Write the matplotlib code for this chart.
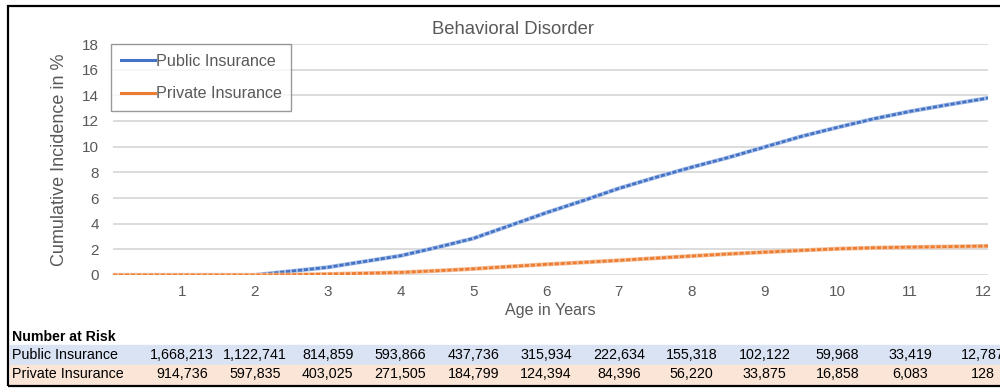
import matplotlib
matplotlib.use("Agg")
import matplotlib.pyplot as plt
from matplotlib.lines import Line2D
from matplotlib.patches import Rectangle
import matplotlib.transforms as mtransforms

plt.rcParams['font.family'] = ['Liberation Sans', 'DejaVu Sans']
plt.rcParams['lines.scale_dashes'] = False

# ---- data ----
years = [0.05, 1, 2, 2.5, 3, 3.5, 4, 4.5, 5, 5.5, 6, 6.5, 7, 7.5, 8, 8.5, 9, 9.5,
         10, 10.5, 11, 11.5, 12, 12.07]
public_ci = [0, 0, 0, 0.3, 0.6, 1.05, 1.5, 2.15, 2.85, 3.85, 4.85, 5.78, 6.75, 7.6,
             8.4, 9.15, 9.97, 10.79, 11.5, 12.17, 12.75, 13.25, 13.72, 13.8]
private_ci = [0, 0, 0, 0.02, 0.07, 0.13, 0.2, 0.33, 0.48, 0.66, 0.83, 0.98, 1.14,
              1.31, 1.48, 1.64, 1.78, 1.92, 2.04, 2.12, 2.17, 2.21, 2.25, 2.26]

tick_years = [1, 2, 3, 4, 5, 6, 7, 8, 9, 10, 11, 12]
public_risk = ["1,668,213", "1,122,741", "814,859", "593,866", "437,736", "315,934",
               "222,634", "155,318", "102,122", "59,968", "33,419", "12,787"]
private_risk = ["914,736", "597,835", "403,025", "271,505", "184,799", "124,394",
                "84,396", "56,220", "33,875", "16,858", "6,083", "128"]

title = "Behavioral Disorder"
series_names = ["Public Insurance", "Private Insurance"]

BLUE = "#4472C4"
BLUE_L = "#A9C1E9"
ORANGE = "#ED7D31"
ORANGE_L = "#F6C3A0"
GRAY = "#595959"

W, H = 1000, 388
fig = plt.figure(figsize=(10, 3.88), dpi=100)

def fx(px):
    return px / W

def fy(py):
    return 1 - py / H

ax = fig.add_axes([fx(113), fy(275), fx(988) - fx(113), fy(44) - fy(275)])
ax.set_xlim(0.05, 12.07)
ax.set_ylim(0, 18)
ax.set_yticks(range(0, 19, 2))
ax.set_xticks(tick_years)
ax.grid(axis='y', color='#D9D9D9', lw=1.3)
ax.set_axisbelow(True)
for s in ax.spines.values():
    s.set_visible(False)
ax.tick_params(length=0, colors=GRAY, labelsize=11)
ax.tick_params(axis='x', pad=7)
ax.tick_params(axis='y', pad=10)

for vals, c, cl in [(public_ci, BLUE, BLUE_L), (private_ci, ORANGE, ORANGE_L)]:
    ax.plot(years, vals, color=cl, lw=3.0, solid_capstyle='butt')
    ax.plot(years, vals, color=c, lw=2.0, dashes=(3.0, 1.3))

handles = [Line2D([], [], color=BLUE, lw=2.2), Line2D([], [], color=ORANGE, lw=2.2)]
leg = ax.legend(handles, series_names, loc='upper left', bbox_to_anchor=(-0.002, 1.0),
                fontsize=11.6, frameon=True, fancybox=False, handlelength=2.1,
                handletextpad=0.05, borderpad=0.6, labelspacing=1.1,
                borderaxespad=0)
leg.get_frame().set_edgecolor('#808080')
leg.get_frame().set_linewidth(1.0)
for t in leg.get_texts():
    t.set_color(GRAY)

fig.text(fx(513), fy(30), title, ha='center', va='center', fontsize=13.3, color=GRAY)
fig.text(fx(60), fy(160), "Cumulative Incidence in %", ha='center', va='center',
         rotation=90, fontsize=13, color=GRAY)
fig.text(fx(550), fy(311), "Age in Years", ha='center', va='center',
         fontsize=11.6, color=GRAY)

# ---- number at risk table ----
fig.text(fx(12), fy(337), "Number at Risk", ha='left', va='center',
         fontsize=10.2, fontweight='bold', color='black')
fig.patches.append(Rectangle((fx(10), fy(365)), 1.0, fy(345) - fy(365),
                             transform=fig.transFigure, color='#DAE3F3', zorder=-2))
fig.patches.append(Rectangle((fx(10), fy(384)), 1.0, fy(365) - fy(384),
                             transform=fig.transFigure, color='#FBE5D6', zorder=-2))
trans = mtransforms.blended_transform_factory(ax.transData, fig.transFigure)
fig.text(fx(12), fy(355), series_names[0], ha='left', va='center', fontsize=10.3)
fig.text(fx(12), fy(374.5), series_names[1], ha='left', va='center', fontsize=10.3)
for x, pv, rv in zip(tick_years, public_risk, private_risk):
    fig.text(x, fy(355), pv, transform=trans, ha='center', va='center',
             fontsize=10.3)
    fig.text(x, fy(374.5), rv, transform=trans, ha='center', va='center',
             fontsize=10.3)

# outer frame
fig.patches.append(Rectangle((fx(8), fy(386)), 1.2, fy(6) - fy(386),
                             transform=fig.transFigure, fill=False,
                             edgecolor='black', lw=1.6, zorder=5))

fig.savefig("out.png", dpi=100)
